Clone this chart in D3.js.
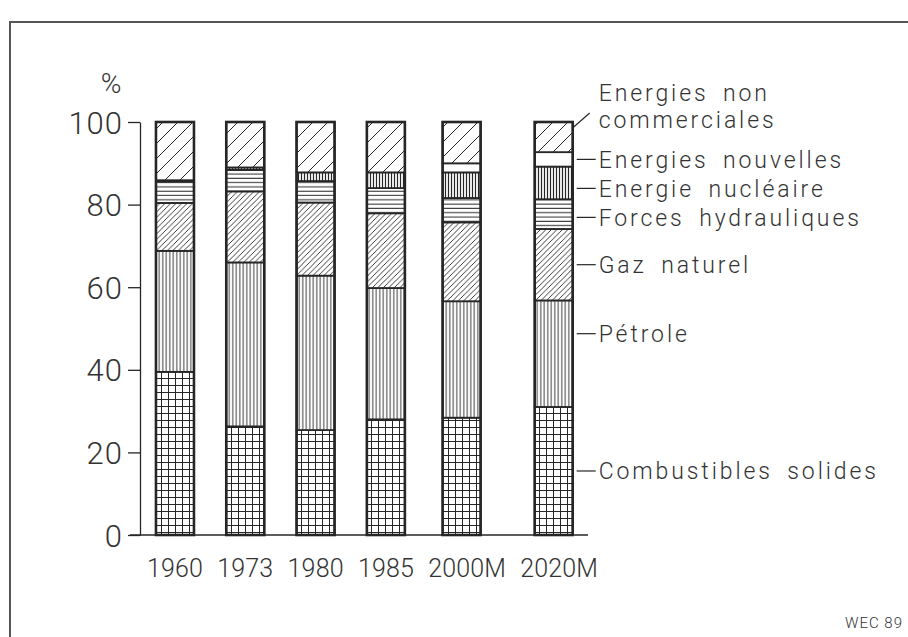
<!DOCTYPE html>
<html>
<head>
<meta charset="utf-8">
<script src="https://cdn.jsdelivr.net/npm/d3@7"></script>
<style>
  body { margin: 0; background: #fff; }
  text { font-family: Roboto, "Open Sans", Lato, sans-serif; font-weight: 300; fill: #333; }
</style>
</head>
<body>
<svg id="chart" width="908" height="637"></svg>
<script>
// categories (bars) and energy sources, bottom to top
var years = ["1960", "1973", "1980", "1985", "2000M", "2020M"];
var sources = ["Combustibles solides", "Pétrole", "Gaz naturel", "Forces hydrauliques",
               "Energie nucléaire", "Energies nouvelles", "Energies non commerciales"];

// shares in % per year
var solides     = [39.5, 26.3, 25.4, 28.0, 28.4, 31.0];
var petrole     = [29.3, 39.7, 37.4, 31.8, 28.2, 25.8];
var gaz         = [11.6, 17.2, 17.7, 18.1, 19.1, 17.3];
var hydro       = [5.2, 5.2, 5.2, 6.1, 5.9, 7.2];
var nucleaire   = [0.3, 0.6, 2.1, 3.8, 6.2, 7.9];
var nouvelles   = [0, 0, 0, 0, 2.2, 3.5];
var nonCommerce = [14.1, 11.0, 12.2, 12.2, 10.0, 7.3];

var yTicks = [0, 20, 40, 60, 80, 100];

var seriesValues = [solides, petrole, gaz, hydro, nucleaire, nouvelles, nonCommerce];

// build table for d3.stack
var table = years.map(function(yr, i) {
  var row = { year: yr };
  sources.forEach(function(s, k) { row[s] = seriesValues[k][i]; });
  return row;
});

var svg = d3.select("#chart");
var ink = "#262626";

// page frame
svg.append("path")
  .attr("d", "M10,637 V22 H908")
  .attr("fill", "none")
  .attr("stroke", "#555")
  .attr("stroke-width", 2);

var y = d3.scaleLinear().domain([0, 100]).range([535, 122]);

// hatch patterns
var defs = svg.append("defs");
function addPattern(id, pw, ph, d, sw) {
  var p = defs.append("pattern")
    .attr("id", id)
    .attr("patternUnits", "userSpaceOnUse")
    .attr("width", pw)
    .attr("height", ph);
  p.append("rect").attr("width", pw).attr("height", ph).attr("fill", "#fff");
  if (d) {
    p.append("path").attr("d", d).attr("stroke", ink).attr("stroke-width", sw).attr("fill", "none");
  }
}
function diag(s) {
  return "M0," + s + " L" + s + ",0 M-2,2 L2,-2 M" + (s - 2) + "," + (s + 2) + " L" + (s + 2) + "," + (s - 2);
}
addPattern("p-grid", 7, 7, "M0,0.5 H7 M0.5,0 V7", 1);
addPattern("p-vert", 3.5, 4, "M1.75,0 V4", 0.9);
addPattern("p-gas", 5.5, 5.5, diag(5.5), 0.9);
addPattern("p-horiz", 4, 4.3, "M0,2 H4", 1);
addPattern("p-nuc", 3, 4, "M1.5,0 V4", 1.2);
addPattern("p-blank", 4, 4, null, 0);
addPattern("p-wide", 15, 15, diag(15), 1);

var fills = ["p-grid", "p-vert", "p-gas", "p-horiz", "p-nuc", "p-blank", "p-wide"];

// year labels are set as one line of text; each bar sits under its label
var labelRow = svg.append("text")
  .attr("x", 147)
  .attr("y", 577)
  .attr("font-size", 25)
  .attr("textLength", 451)
  .attr("lengthAdjust", "spacing");
labelRow.selectAll("tspan")
  .data(years)
  .enter()
  .append("tspan")
  .attr("dx", function(d, i) { return i ? 8 : 0; })
  .text(function(d, i) { return (i ? " " : "") + d; });

var rowNode = labelRow.node();
var centers = [];
var idx = 0;
years.forEach(function(yr, i) {
  if (i) idx += 1; // leading space
  var a = rowNode.getStartPositionOfChar(idx).x;
  var b4 = rowNode.getEndPositionOfChar(idx + 3).x;
  var bEnd = rowNode.getEndPositionOfChar(idx + yr.length - 1).x;
  centers.push((a + (b4 + bEnd) / 2) / 2);
  idx += yr.length;
});
var x = d3.scaleOrdinal().domain(years).range(centers);
var barW = 38;

// y axis
var axis = svg.append("g")
  .attr("transform", "translate(140,0)")
  .call(d3.axisLeft(y).tickValues(yTicks).tickSize(12).tickSizeOuter(0).tickPadding(5));
axis.select(".domain").attr("stroke", ink).attr("stroke-width", 1.3);
axis.selectAll(".tick line").attr("stroke", ink).attr("stroke-width", 1.3);
axis.selectAll(".tick text")
  .attr("font-size", 31)
  .attr("font-family", null)
  .attr("fill", null)
  .attr("dy", "0.36em")
  .style("letter-spacing", "1px");

svg.append("text")
  .attr("x", 111)
  .attr("y", 93)
  .attr("text-anchor", "middle")
  .attr("font-size", 28)
  .text("%");

// stacked bars
var stack = d3.stack().keys(sources);
var layers = stack(table);

var gBars = svg.append("g");
layers.forEach(function(layer, k) {
  gBars.selectAll(".seg" + k)
    .data(layer.filter(function(d) { return d[1] - d[0] > 0; }))
    .enter()
    .append("rect")
    .attr("x", function(d) { return x(d.data.year) - barW / 2; })
    .attr("y", function(d) { return y(d[1]); })
    .attr("width", barW)
    .attr("height", function(d) { return y(d[0]) - y(d[1]); })
    .attr("fill", "url(#" + fills[k] + ")")
    .attr("stroke", ink)
    .attr("stroke-width", 1.8);
});

// outer outline of each bar
gBars.selectAll(".outline")
  .data(table)
  .enter()
  .append("rect")
  .attr("x", function(d) { return x(d.year) - barW / 2; })
  .attr("y", y(100))
  .attr("width", barW)
  .attr("height", y(0) - y(100))
  .attr("fill", "none")
  .attr("stroke", ink)
  .attr("stroke-width", 2.6);

// baseline
svg.append("line")
  .attr("x1", 130)
  .attr("x2", 588)
  .attr("y1", y(0))
  .attr("y2", y(0))
  .attr("stroke", ink)
  .attr("stroke-width", 1.3);

// labels beside the last bar
var last = layers.map(function(layer) { return layer[layer.length - 1]; });
var lastX = x(years[years.length - 1]) + barW / 2;
var labelNudge = { "Pétrole": -20 };
var minGap = 29;

// label y positions: segment middles, pushed down so they never crowd (top to bottom)
var labelY = [];
var prevY = -Infinity;
for (var k = sources.length - 2; k >= 0; k--) {
  var my = (y(last[k][0]) + y(last[k][1])) / 2 + (labelNudge[sources[k]] || 0);
  my = Math.max(my, prevY + minGap);
  labelY[k] = my;
  prevY = my;
}

var gLeg = svg.append("g");
sources.forEach(function(s, k) {
  if (k === sources.length - 1) {
    var top = y(last[k][1]);
    gLeg.append("line")
      .attr("x1", lastX + 1).attr("y1", top + 5)
      .attr("x2", lastX + 17).attr("y2", top - 9)
      .attr("stroke", ink).attr("stroke-width", 1.2);
    var t = gLeg.append("text")
      .attr("font-size", 23)
      .style("letter-spacing", "2.9px")
      .style("word-spacing", "6px");
    t.append("tspan").attr("x", lastX + 26).attr("y", top - 21).text("Energies non");
    t.append("tspan").attr("x", lastX + 26).attr("y", top + 6).text("commerciales");
    return;
  }
  var ly = labelY[k];
  gLeg.append("line")
    .attr("x1", lastX + 4).attr("x2", lastX + 23)
    .attr("y1", ly).attr("y2", ly)
    .attr("stroke", ink).attr("stroke-width", 1.2);
  gLeg.append("text")
    .attr("x", lastX + 26)
    .attr("y", ly)
    .attr("dy", "0.36em")
    .attr("font-size", 23)
    .style("letter-spacing", "2.9px")
    .style("word-spacing", "6px")
    .text(s);
});

svg.append("text")
  .attr("x", 903)
  .attr("y", 628)
  .attr("text-anchor", "end")
  .attr("font-size", 15)
  .style("letter-spacing", "1px")
  .text("WEC 89");
</script>
</body>
</html>
